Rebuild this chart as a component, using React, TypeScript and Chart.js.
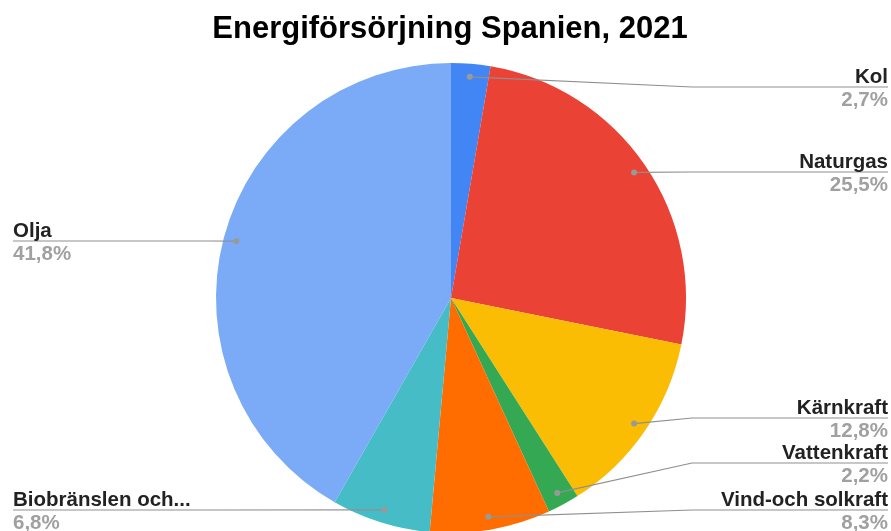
import React, { useEffect, useRef } from 'react';
import { Chart, registerables } from 'chart.js';
Chart.register(...registerables);

const title = 'Energiförsörjning Spanien, 2021';
const categories = ['Kol', 'Naturgas', 'Kärnkraft', 'Vattenkraft', 'Vind-och solkraft', 'Biobränslen och...', 'Olja'];
const values = [2.7, 25.5, 12.8, 2.2, 8.3, 6.8, 41.8];
const colors = ['#4285f4', '#ea4335', '#fbbc04', '#34a853', '#ff6d01', '#46bdc6', '#7baaf7'];
// label layout (sides and leader-line heights)
const labelSides = ['right', 'right', 'right', 'right', 'right', 'left', 'left'];
const labelLineY = [87, 172, 418, 463, 510, 510, 241];

const FONT = '"Liberation Sans", Arial, sans-serif';

const titlePlugin = {
  id: 'customTitle',
  afterDraw(chart: any) {
    const ctx = chart.ctx;
    ctx.save();
    ctx.font = `bold 31px ${FONT}`;
    ctx.fillStyle = '#000000';
    ctx.textAlign = 'center';
    ctx.textBaseline = 'alphabetic';
    ctx.fillText(title, 450, 38);
    ctx.restore();
  },
};

const labelPlugin = {
  id: 'pieLabels',
  afterDatasetsDraw(chart: any) {
    const ctx = chart.ctx;
    const meta = chart.getDatasetMeta(0);
    const data = chart.data.datasets[0].data as number[];
    const total = data.reduce((a, b) => a + b, 0);
    const rightEdge = 888;
    const leftEdge = 13;
    const rightElbow = 692;
    const leftElbow = 210;
    ctx.save();
    meta.data.forEach((arc: any, i: number) => {
      const p = arc.getProps(['x', 'y', 'startAngle', 'endAngle', 'outerRadius'], true);
      const mid = (p.startAngle + p.endAngle) / 2;
      const r = p.outerRadius - 13;
      const dx = p.x + Math.cos(mid) * r;
      const dy = p.y + Math.sin(mid) * r;
      const side = labelSides[i];
      const ly = labelLineY[i];
      ctx.strokeStyle = '#8f8f8f';
      ctx.lineWidth = 1.2;
      ctx.beginPath();
      ctx.moveTo(dx, dy);
      if (side === 'right') {
        ctx.lineTo(Math.max(rightElbow, dx), ly);
        ctx.lineTo(rightEdge, ly);
      } else {
        ctx.lineTo(Math.min(leftElbow, dx), ly);
        ctx.lineTo(leftEdge, ly);
      }
      ctx.stroke();
      ctx.fillStyle = '#999999';
      ctx.beginPath();
      ctx.arc(dx, dy, 3, 0, Math.PI * 2);
      ctx.fill();

      const pct = ((data[i] / total) * 100).toFixed(1).replace('.', ',') + '%';
      const tx = side === 'right' ? rightEdge : leftEdge;
      ctx.textAlign = side === 'right' ? 'right' : 'left';
      ctx.textBaseline = 'alphabetic';
      ctx.font = `bold 20.5px ${FONT}`;
      ctx.fillStyle = '#222222';
      ctx.fillText(chart.data.labels[i], tx, ly - 4);
      ctx.fillStyle = '#a0a0a0';
      ctx.fillText(pct, tx, ly + 19);
    });
    ctx.restore();
  },
};

export default function App() {
  const ref = useRef<HTMLCanvasElement>(null);
  useEffect(() => {
    if (!ref.current) return;
    const chart = new Chart(ref.current, {
      type: 'pie',
      data: {
        labels: categories,
        datasets: [
          {
            data: values,
            backgroundColor: colors,
            borderColor: '#ffffff',
            borderWidth: 0,
            hoverOffset: 0,
          },
        ],
      },
      options: {
        responsive: false,
        animation: false,
        events: [],
        layout: { padding: { top: 63, bottom: 7, left: 216, right: 205 } },
        plugins: {
          legend: { display: false },
          title: { display: false },
          tooltip: { enabled: false },
        },
      },
      plugins: [titlePlugin, labelPlugin],
    });
    return () => chart.destroy();
  }, []);
  return (
    <div style={{ position: 'fixed', left: 0, top: 0, width: 891, height: 531, overflow: 'hidden', background: '#ffffff' }}>
      <canvas ref={ref} width={891} height={540} style={{ display: 'block' }} />
    </div>
  );
}
